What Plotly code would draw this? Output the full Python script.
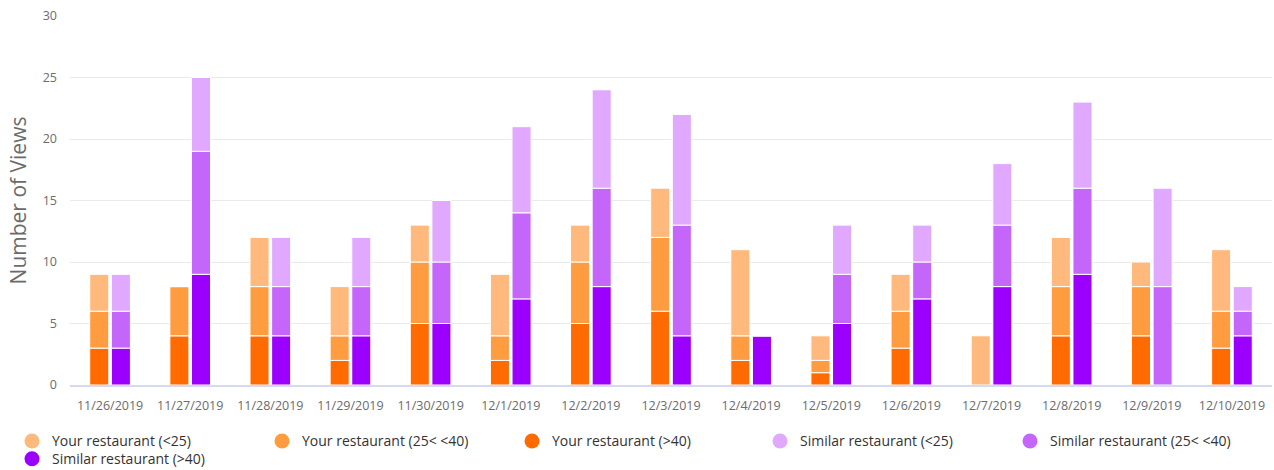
import numpy as np
import plotly.graph_objects as go

dates = ["11/26/2019", "11/27/2019", "11/28/2019", "11/29/2019", "11/30/2019",
         "12/1/2019", "12/2/2019", "12/3/2019", "12/4/2019", "12/5/2019",
         "12/6/2019", "12/7/2019", "12/8/2019", "12/9/2019", "12/10/2019"]

your_gt40 = [3, 4, 4, 2, 5, 2, 5, 6, 2, 1, 3, 0, 4, 4, 3]
your_25_40 = [3, 4, 4, 2, 5, 2, 5, 6, 2, 1, 3, 0, 4, 4, 3]
your_lt25 = [3, 0, 4, 4, 3, 5, 3, 4, 7, 2, 3, 4, 4, 2, 5]

sim_gt40 = [3, 9, 4, 4, 5, 7, 8, 4, 4, 5, 7, 8, 9, 0, 4]
sim_25_40 = [3, 10, 4, 4, 5, 7, 8, 9, 0, 4, 3, 5, 7, 8, 2]
sim_lt25 = [3, 6, 4, 4, 5, 7, 8, 9, 0, 4, 3, 5, 7, 8, 2]

series = [
    ("Your restaurant (>40)", your_gt40, "your", "#FF6B00"),
    ("Your restaurant (25< <40)", your_25_40, "your", "#FF9C40"),
    ("Your restaurant (<25)", your_lt25, "your", "#FFB97D"),
    ("Similar restaurant (>40)", sim_gt40, "sim", "#9B00FF"),
    ("Similar restaurant (25< <40)", sim_25_40, "sim", "#C466FA"),
    ("Similar restaurant (<25)", sim_lt25, "sim", "#E0A8FF"),
]

fig = go.Figure()
bases = {"your": np.zeros(len(dates)), "sim": np.zeros(len(dates))}
for name, vals, grp, col in series:
    v = np.array(vals, dtype=float)
    fig.add_trace(go.Bar(
        x=dates, y=v, base=bases[grp].copy(), offsetgroup=grp, name=name,
        marker=dict(color=col, line=dict(color="white", width=1)),
        showlegend=False,
    ))
    bases[grp] = bases[grp] + v

legend_items = [
    ("Your restaurant (<25)", "#FFB97D", "legend"),
    ("Your restaurant (25< <40)", "#FF9C40", "legend"),
    ("Your restaurant (>40)", "#FF6B00", "legend"),
    ("Similar restaurant (<25)", "#E0A8FF", "legend2"),
    ("Similar restaurant (25< <40)", "#C466FA", "legend2"),
    ("Similar restaurant (>40)", "#9B00FF", "legend3"),
]
for name, col, lg in legend_items:
    fig.add_trace(go.Scatter(
        x=[None], y=[None], mode="markers", name=name, legend=lg,
        marker=dict(symbol="circle", size=15, color=col),
    ))

legend_common = dict(
    orientation="h", xref="container", yref="container",
    xanchor="left", yanchor="top",
    entrywidth=205, entrywidthmode="pixels",
    font=dict(size=14, color="#333333"),
    tracegroupgap=0, itemclick=False, bgcolor="rgba(0,0,0,0)",
)

fig.update_layout(
    width=1274, height=470,
    margin=dict(l=70, r=2, t=16, b=85, autoexpand=False),
    paper_bgcolor="white", plot_bgcolor="white",
    barmode="group", bargap=0.46, bargroupgap=0.12,
    font=dict(family="Open Sans, sans-serif", color="#6B6B6B", size=12),
    legend=dict(legend_common, x=12 / 1274, y=0.095),
    legend2=dict(legend_common, x=760 / 1274, y=0.095),
    legend3=dict(legend_common, x=12 / 1274, y=0.057),
    xaxis=dict(
        showgrid=False, showline=True, linecolor="#D6DAF0", linewidth=1.5,
        tickfont=dict(size=12.5, color="#6B6B6B"), ticks="", ticklabelstandoff=8,
    ),
    yaxis=dict(
        range=[0, 30], dtick=5, showgrid=True, gridcolor="#EAEAEA",
        zeroline=False, showline=False,
        tickfont=dict(size=12.5, color="#6B6B6B"), ticklabelstandoff=12,
        title=dict(text="Number of Views", font=dict(size=21, color="#6B6B6B"), standoff=10),
    ),
)

fig.write_html("out.html")
